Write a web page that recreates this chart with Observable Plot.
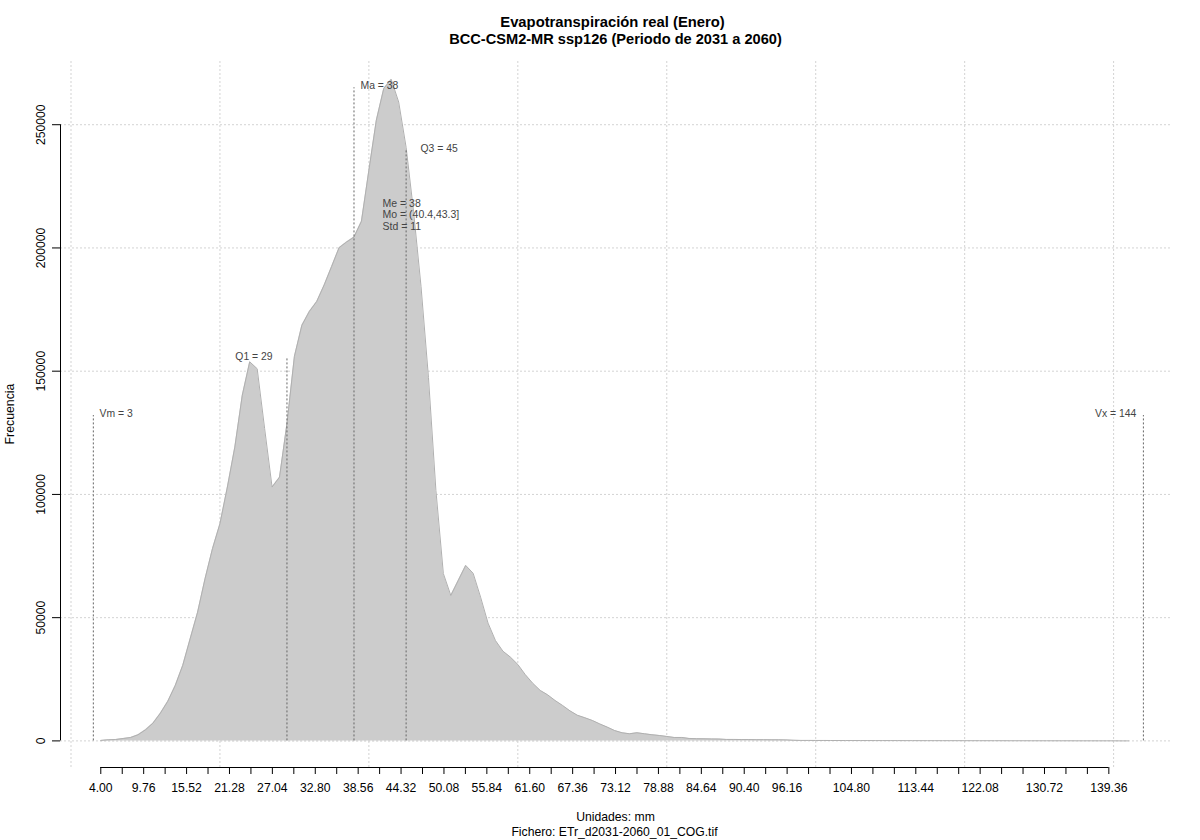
<!DOCTYPE html>
<html>
<head>
<meta charset="utf-8">
<script src="https://cdn.jsdelivr.net/npm/d3@7"></script>
<script src="https://cdn.jsdelivr.net/npm/@observablehq/plot@0.6"></script>
<style>
  html, body {margin: 0; padding: 0; background: #fff;}
</style>
</head>
<body>
<div id="chart"></div>
<script>
// values, one per integer mm starting at 4
const firstMm = 4;
const freq = [
  200, 450, 570, 970, 1380, 2480, 4500, 7180, 11240, 16100,
  22480, 30600, 41400, 52200, 65800, 78000, 88100, 103000, 119200, 140200,
  153800, 151000, 126700, 103000, 107000, 128700, 156000, 168600, 174200, 178300,
  185000, 192500, 200100, 202400, 204400, 210800, 231500, 251800, 264700, 268400,
  259200, 240800, 214800, 184400, 147500, 101600, 67900, 59000, 65100, 71200,
  68000, 58300, 47800, 40700, 36400, 34000, 31000, 26900, 23400, 20500,
  18700, 16400, 14400, 12200, 10400, 9400, 8300, 6900, 5600, 4200,
  3300, 2900, 3300, 2900, 2500, 2200, 1800, 1400, 1400, 1000,
  900, 850, 800, 750, 600, 600, 550, 550, 500, 500,
  450, 450, 400, 250, 200, 200, 180, 180, 160, 160,
  150, 150, 140, 140, 130, 130, 120, 120, 110, 110,
  100, 100, 100, 90, 90, 90, 80, 80, 80, 70,
  70, 70, 60, 60, 60, 50, 50, 50, 40, 40,
  40, 30, 30, 30, 20, 20, 20, 10, 10
];

const xTicks = [
  4, 6.88, 9.76, 12.64, 15.52, 18.4, 21.28, 24.16, 27.04, 29.92, 32.8, 35.68,
  38.56, 41.44, 44.32, 47.2, 50.08, 52.96, 55.84, 58.72, 61.6, 64.48, 67.36, 70.24,
  73.12, 76, 78.88, 81.76, 84.64, 87.52, 90.4, 93.28, 96.16, 99.04, 101.92, 104.8,
  107.68, 110.56, 113.44, 116.32, 119.2, 122.08, 124.96, 127.84, 130.72, 133.6, 136.48, 139.36
];
const xLabels = [
  4, 9.76, 15.52, 21.28, 27.04, 32.8, 38.56, 44.32, 50.08, 55.84, 61.6, 67.36,
  73.12, 78.88, 84.64, 90.4, 96.16, 104.8, 113.44, 122.08, 130.72, 139.36
];
const yTicks = [0, 50000, 100000, 150000, 200000, 250000];
const gridX = [0, 20, 40, 60, 80, 100, 120, 140];

// dotted lines for the statistics
const statNames = ["Vm = 3", "Q1 = 29", "Ma = 38", "Q3 = 45", "Vx = 144"];
const statX = [3, 29, 38, 45, 144];
const statTop = [132000, 155000, 265000, 239600, 132000];
const statAnchor = ["start", "end", "start", "start", "end"];
const statDx = [6.2, -14.4, 6.5, 14.4, -7];
const statsBlock = "Me = 38\nMo = (40.4,43.3]\nStd = 11";
const statsBlockX = 38;
const statsBlockY = 213600;

const xMin = -1.41, xMax = 147.64;
const yMin = -10790, yMax = 276050;

const curve = freq.map((f, i) => ({mm: firstMm + i, f}));
const stats = statNames.map((name, i) => ({name, x: statX[i], top: statTop[i], anchor: statAnchor[i], dx: statDx[i]}));
const labelSet = new Set(xLabels);
const gridStyle = {stroke: "#d3d3d3", strokeWidth: 1, strokeDasharray: "2,2"};
const statColor = "#444444";

const plot = Plot.plot({
  width: 1200,
  height: 840,
  marginLeft: 60,
  marginRight: 30,
  marginTop: 60,
  marginBottom: 73,
  x: {domain: [xMin, xMax]},
  y: {domain: [yMin, yMax]},
  style: {fontFamily: "'Liberation Sans', Arial, sans-serif", fontSize: "12px", background: "#fff", color: "#000"},
  marks: [
    // grid first, the area sits on top of it
    Plot.ruleX(gridX, {y1: yMin, y2: yMax, ...gridStyle}),
    Plot.ruleY(yTicks, {x1: xMin, x2: xMax, ...gridStyle}),
    Plot.areaY(curve, {x: "mm", y: "f", fill: "#cccccc"}),
    // the zero grid line still shows along the base of the filled part
    Plot.ruleY([0], {x1: 4, x2: 96, ...gridStyle}),
    Plot.lineY(curve, {x: "mm", y: "f", stroke: "#b0b0b0", strokeWidth: 1}),
    Plot.ruleX(stats, {x: "x", y1: 0, y2: "top", stroke: "#666666", strokeWidth: 1, strokeDasharray: "2,2"}),
    // each label has its own offset, dx is a constant per mark
    ...stats.map(d => Plot.text([d], {
      x: "x", y: "top", text: "name", textAnchor: d.anchor, dx: d.dx, dy: -2,
      fill: statColor, fontSize: 10.4
    })),
    Plot.text([statsBlock], {
      x: () => statsBlockX, y: () => statsBlockY, textAnchor: "start", dx: 28.5,
      fill: statColor, fontSize: 10.5, lineHeight: 1.1
    }),
    // axes, drawn the R way: the line only spans first to last tick
    Plot.ruleX([xMin], {y1: 0, y2: 250000, stroke: "#000"}),
    Plot.ruleY([yMin], {x1: 4, x2: 139.36, stroke: "#000"}),
    Plot.axisX(xTicks, {
      tickSize: 7, tickPadding: 9, label: null,
      tickFormat: d => labelSet.has(d) ? d.toFixed(2) : "",
      fontSize: 12.2, stroke: "#000"
    }),
    Plot.axisY(yTicks, {
      tickSize: 8, tickPadding: 8, label: null, tickRotate: -90,
      tickFormat: d => String(d), fontSize: 12.2, stroke: "#000"
    }),
    // titles
    Plot.text(["Evapotranspiración real (Enero)"], {frameAnchor: "top", lineAnchor: "middle", dx: -3, dy: -38, fontWeight: "bold", fontSize: 14.8, fill: "#000"}),
    Plot.text(["BCC-CSM2-MR ssp126 (Periodo de 2031 a 2060)"], {frameAnchor: "top", lineAnchor: "middle", dy: -21, fontWeight: "bold", fontSize: 14.6, fill: "#000"}),
    Plot.text(["Unidades: mm"], {frameAnchor: "bottom", lineAnchor: "middle", dy: 50, fontSize: 12.2, fill: "#000"}),
    Plot.text(["Fichero: ETr_d2031-2060_01_COG.tif"], {frameAnchor: "bottom", lineAnchor: "middle", dx: -1, dy: 64.5, fontSize: 12.2, fill: "#000"}),
    Plot.text(["Frecuencia"], {frameAnchor: "left", textAnchor: "middle", lineAnchor: "middle", dx: -50.5, rotate: -90, fontSize: 12.3, fill: "#000"})
  ]
});
document.getElementById("chart").appendChild(plot);
</script>
</body>
</html>
